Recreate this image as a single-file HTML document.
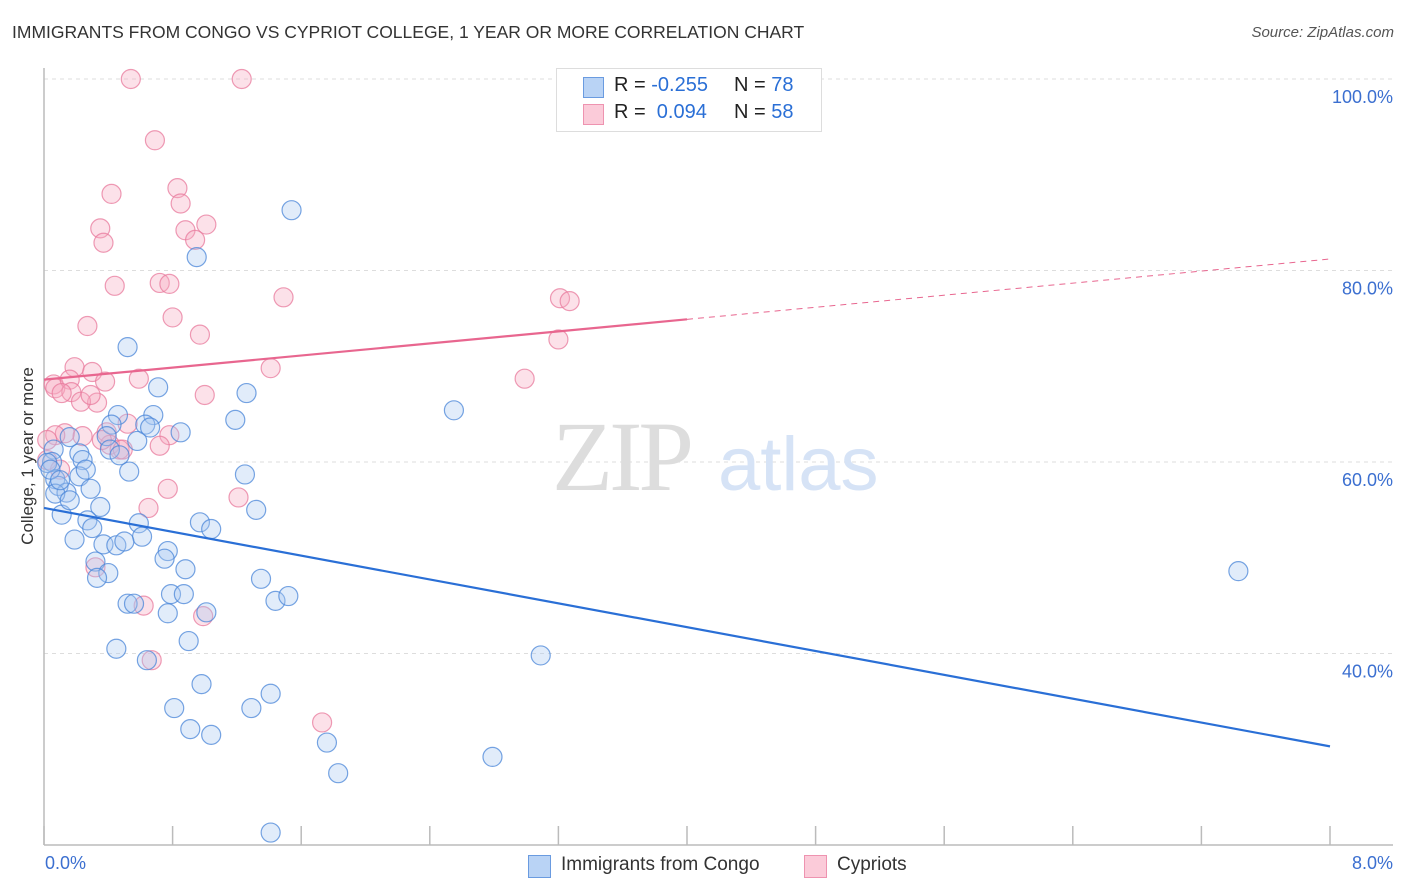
<!DOCTYPE html>
<html><head><meta charset="utf-8"><style>
body{margin:0;background:#fff;font-family:"Liberation Sans",sans-serif;}
#wrap{position:relative;width:1406px;height:892px;overflow:hidden;}
.t{position:absolute;white-space:nowrap;}
</style></head><body><div id="wrap">
<div class="t" style="left:12px;top:22px;font-size:17.5px;color:#333;">IMMIGRANTS FROM CONGO VS CYPRIOT COLLEGE, 1 YEAR OR MORE CORRELATION CHART</div>
<div class="t" style="right:12px;top:24px;font-size:15px;color:#555;font-style:italic;">Source: ZipAtlas.com</div>
<svg id="plot" width="1406" height="892" style="position:absolute;left:0;top:0"></svg>
</div>
<script>
const yTicks=[100,80,60,40];
const yTickLabels=["100.0%","80.0%","60.0%","40.0%"];
const xTickVals=[0,0.8,1.6,2.4,3.2,4.0,4.8,5.6,6.4,7.2,8.0];
const blueX=[1.54,0.95,0.52,0.71,1.26,2.55,1.19,0.46,0.68,0.42,0.63,0.85,0.58,0.16,0.39,0.06,0.22,0.24,0.05,0.53,1.25,0.22,0.07,0.09,0.29,0.14,0.07,0.35,1.32,0.11,0.27,0.59,0.97,0.30,1.04,0.19,0.61,0.37,0.45,0.50,0.77,0.75,0.32,0.40,0.88,0.33,1.35,7.43,1.44,1.52,0.52,0.56,0.79,0.87,1.01,0.77,0.90,0.45,0.64,3.09,0.98,1.41,0.81,1.29,0.91,1.04,1.76,2.79,1.83,1.41,0.02,0.04,0.10,0.16,0.41,0.66,0.47,0.26];
const blueY=[86.3,81.4,72.0,67.8,67.2,65.4,64.4,64.9,64.9,63.9,63.9,63.1,62.2,62.6,62.7,61.3,60.9,60.2,60.0,59.0,58.7,58.5,58.2,57.5,57.2,56.8,56.7,55.3,55.0,54.5,53.9,53.6,53.7,53.1,53.0,51.9,52.2,51.4,51.3,51.7,50.7,49.9,49.6,48.4,48.8,47.9,47.8,48.6,45.5,46.0,45.2,45.2,46.2,46.2,44.3,44.2,41.3,40.5,39.3,39.8,36.8,35.8,34.3,34.3,32.1,31.5,30.7,29.2,27.5,21.3,59.9,59.2,58.1,56.0,61.3,63.6,60.7,59.2];
const pinkX=[0.54,1.23,0.69,0.42,0.83,0.85,1.01,0.35,0.88,0.94,0.37,0.44,0.72,0.78,1.49,3.21,3.27,0.80,0.27,0.97,3.20,0.19,1.41,2.99,0.30,0.59,0.06,0.07,0.16,0.17,0.38,0.11,0.33,0.23,0.29,1.00,0.13,0.07,0.02,0.24,0.78,0.39,0.41,0.47,0.49,0.36,0.52,0.72,0.77,0.65,1.21,0.32,0.62,0.99,0.67,1.73,0.02,0.10];
const pinkY=[100,100,93.6,88.0,88.6,87.0,84.8,84.4,84.2,83.2,82.9,78.4,78.7,78.6,77.2,77.1,76.8,75.1,74.2,73.3,72.8,69.9,69.8,68.7,69.4,68.7,68.1,67.7,68.6,67.3,68.4,67.2,66.2,66.3,67.0,67.0,63.0,62.8,62.3,62.7,62.8,63.1,61.8,61.3,61.3,62.3,64.0,61.7,57.2,55.2,56.3,49.0,45.0,43.9,39.3,32.8,60.2,59.2];
const blueTrend=[55.2,30.3];
const pinkTrend=[68.6,81.2];
const pinkSolidEnd=4.0;

const X0=44,X1=1330,Y100=79,PX20=191.5;
const sx=v=>X0+(v/8)*(X1-X0);
const sy=v=>Y100+(100-v)/20*PX20;
const svg=document.getElementById('plot');
const NS='http://www.w3.org/2000/svg';
function mk(tag,attrs,parent){const e=document.createElementNS(NS,tag);for(const k in attrs)e.setAttribute(k,attrs[k]);(parent||svg).appendChild(e);return e;}

yTicks.forEach((v,i)=>{
  const g=mk('line',{x1:X0,x2:1393,y1:sy(v),y2:sy(v),stroke:'#ddd','stroke-dasharray':'4,4'});
  
  
  const t=mk('text',{x:1393,y:sy(v)+24,'text-anchor':'end','font-size':18,fill:'#3b6fd0','font-family':'Liberation Sans, sans-serif'});
  t.textContent=yTickLabels[i];
  
  
});
const ax=mk('line',{x1:X0,x2:1393,y1:845,y2:845,stroke:'#bbb','stroke-width':1.5});


const ay=mk('line',{x1:X0,x2:X0,y1:68,y2:845,stroke:'#bbb','stroke-width':1.5});


xTickVals.forEach(v=>{
  const t=mk('line',{x1:sx(v),x2:sx(v),y1:826,y2:845,stroke:'#bbb','stroke-width':1.5});
  
  
});
const wm=mk('text',{x:552,y:490,'font-size':100,fill:'#ddd','font-family':'Liberation Serif, serif','letter-spacing':'-4'});
wm.textContent='ZIP';


const wm2=mk('text',{x:718,y:490,'font-size':76,fill:'#d6e3f6','font-family':'Liberation Sans, sans-serif'});
wm2.textContent='atlas';



function pts(xs,ys,fill,stroke,name){
  xs.forEach((x,i)=>{
    const c=mk('circle',{cx:sx(x),cy:sy(ys[i]),r:9.5,fill:fill,'fill-opacity':0.35,stroke:stroke,'stroke-opacity':0.75,'stroke-width':1.2});
    
    
  });
}
pts(pinkX,pinkY,'#f7a8c0','#e8799c','point-cypriots');
pts(blueX,blueY,'#a9c8f2','#4a86d8','point-congo');

const bl=mk('line',{x1:sx(0),y1:sy(blueTrend[0]),x2:sx(8),y2:sy(blueTrend[1]),stroke:'#2a6fd6','stroke-width':2.2});


const pm=pinkTrend[0]+(pinkTrend[1]-pinkTrend[0])*pinkSolidEnd/8;
const pl=mk('line',{x1:sx(0),y1:sy(pinkTrend[0]),x2:sx(pinkSolidEnd),y2:sy(pm),stroke:'#e8668f','stroke-width':2.2});


const pd=mk('line',{x1:sx(pinkSolidEnd),y1:sy(pm),x2:sx(8),y2:sy(pinkTrend[1]),stroke:'#e8668f','stroke-width':1,'stroke-dasharray':'6,5'});


</script>
<div class="t" style="left:28px;top:456px;transform:translate(-50%,-50%) rotate(-90deg);font-size:17px;color:#333;">College, 1 year or more</div>
<div class="t" style="left:45px;top:853px;font-size:18px;color:#3b6fd0;">0.0%</div>
<div class="t" style="right:13px;top:853px;font-size:18px;color:#3b6fd0;">8.0%</div>
<div style="position:absolute;left:556px;top:68px;width:264px;height:62px;border:1px solid #ddd;background:#fff;font-size:20px;color:#222;">
  <div style="position:absolute;left:26px;top:8px;width:19px;height:19px;background:#b9d3f5;border:1px solid #6a9be0;"></div>
  <div class="t" style="left:57px;top:5px;">R = <span style="color:#2a6fd6">-0.255</span></div>
  <div class="t" style="left:177px;top:5px;">N = <span style="color:#2a6fd6">78</span></div>
  <div style="position:absolute;left:26px;top:35px;width:19px;height:19px;background:#fbcbd9;border:1px solid #ee93b0;"></div>
  <div class="t" style="left:57px;top:32px;">R = &nbsp;<span style="color:#2a6fd6">0.094</span></div>
  <div class="t" style="left:177px;top:32px;">N = <span style="color:#2a6fd6">58</span></div>
</div>
<div style="position:absolute;left:528px;top:855px;font-size:19px;color:#333;">
  <div style="position:absolute;left:0;top:0;width:21px;height:21px;background:#b9d3f5;border:1px solid #6a9be0;"></div>
  <div class="t" style="left:33px;top:-1px;">Immigrants from Congo</div>
  <div style="position:absolute;left:276px;top:0;width:21px;height:21px;background:#fbcbd9;border:1px solid #ee93b0;"></div>
  <div class="t" style="left:309px;top:-1px;">Cypriots</div>
</div>
</body></html>
